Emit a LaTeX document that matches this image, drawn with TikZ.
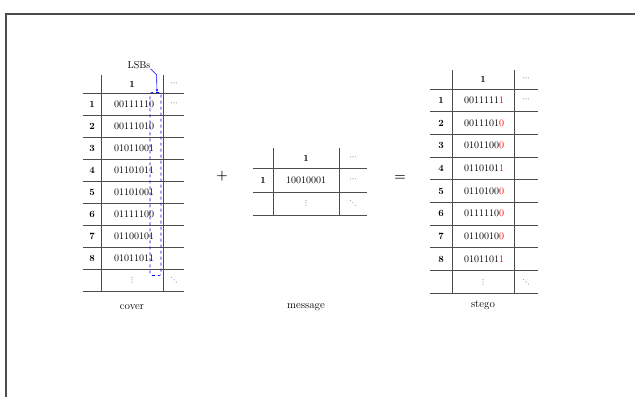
\documentclass[tikz,border=0pt]{standalone}
\usepackage{fontspec}
\newfontfamily\symfont{DejaVu Sans}
\usetikzlibrary{arrows.meta}
\begin{document}
\begin{tikzpicture}[x=1pt,y=-1pt,
  frameline/.style={draw=black!70, line width=1.6pt},
  gridline/.style={draw=black!70, line width=0.9pt},
  cell/.style={inner sep=0pt, font=\fontsize{10}{12}\selectfont},
  idx/.style={inner sep=0pt, font=\fontsize{9.5}{11}\selectfont\bfseries},
  dotcell/.style={inner sep=0pt, text=black!60, font=\fontsize{7}{8}\selectfont\symfont},
  caption/.style={inner sep=0pt, font=\fontsize{11}{13}\selectfont},
  oper/.style={inner sep=0pt, font=\fontsize{13}{14}\selectfont\bfseries},
  lsbmark/.style={draw=blue, dashed, line width=0.6pt}]
\useasboundingbox (0,0) rectangle (635,397);
\draw[frameline] (6,397) -- (6,14) -- (635,14);

% ---------- cover table ----------
\foreach \k in {0,...,9} \draw[gridline] (83,{93+22*\k}) -- (184,{93+22*\k});
\draw[gridline] (101,75) -- (101,291);
\draw[gridline] (163,75) -- (163,291);
\node[idx] (ch1) at (132,84) {1};
\node[dotcell] (chd) at (174,84) {⋯};
\foreach \r/\v in {1/00111110,2/00111010,3/01011001,4/01101011,5/01101001,6/01111100,7/01100101,8/01011011}{
  \node[idx] (cr\r) at (92,{104+22*(\r-1)}) {\r};
  \node[cell] (cv\r) at (134,{104+22*(\r-1)}) {\v};
}
\node[dotcell] (cr1d) at (174,104) {⋯};
\node[dotcell] (cvd) at (132,280) {⋮};
\node[dotcell] (cdd) at (174,280) {⋱};
\node[caption] (cover) at (132,307) {cover};

% LSB marker
\node[lsbmark, rounded corners=2pt, minimum width=11pt, minimum height=183pt, inner sep=0pt] (lsbbox) at (155.5,184) {};
\node[caption, font=\fontsize{10}{12}\selectfont] (lsb) at (139,65) {LSBs};
\coordinate (lsbtop) at (157,92);
\draw[blue, line width=0.6pt, -{Stealth[length=3pt]}] (lsb.south east) -- ++(6,6) -- (lsbtop);

% ---------- operators ----------
\node[oper] (plus) at (222,176) {+};
\node[oper] (equals) at (400,178) {=};

% ---------- message table ----------
\foreach \y in {168,192,215} \draw[gridline] (253,\y) -- (367,\y);
\draw[gridline] (273,148) -- (273,215);
\draw[gridline] (339,148) -- (339,215);
\node[idx] (mh1) at (306,158) {1};
\node[dotcell] (mhd) at (353,158) {⋯};
\node[idx] (mr1) at (263,180) {1};
\node[cell] (mv1) at (306,180) {10010001};
\node[dotcell] (mr1d) at (353,180) {⋯};
\node[dotcell] (mvd) at (306,203) {⋮};
\node[dotcell] (mdd) at (353,203) {⋱};
\node[caption] (message) at (306,307) {message};

% ---------- stego table ----------
\foreach \k in {0,...,9} \draw[gridline] (430,{89+22.67*\k}) -- (538,{89+22.67*\k});
\draw[gridline] (452,70) -- (452,293);
\draw[gridline] (514,70) -- (514,293);
\node[idx] (sh1) at (483,79.5) {1};
\node[dotcell] (shd) at (526,79.5) {⋯};
\foreach \r/\a/\b in {1/0011111/1,2/0011101/0,3/0101100/0,4/0110101/1,5/0110100/0,6/0111110/0,7/0110010/0,8/0101101/1}{
  \node[idx] (sr\r) at (441,{100.3+22.67*(\r-1)}) {\r};
  \node[cell] (sv\r) at (484,{100.3+22.67*(\r-1)}) {\a\textcolor{red}{\b}};
}
\node[dotcell] (sr1d) at (526,100.3) {⋯};
\node[dotcell] (svd) at (483,282) {⋮};
\node[dotcell] (sdd) at (526,282) {⋱};
\node[caption] (stego) at (483,305) {stego};
\end{tikzpicture}
\end{document}
